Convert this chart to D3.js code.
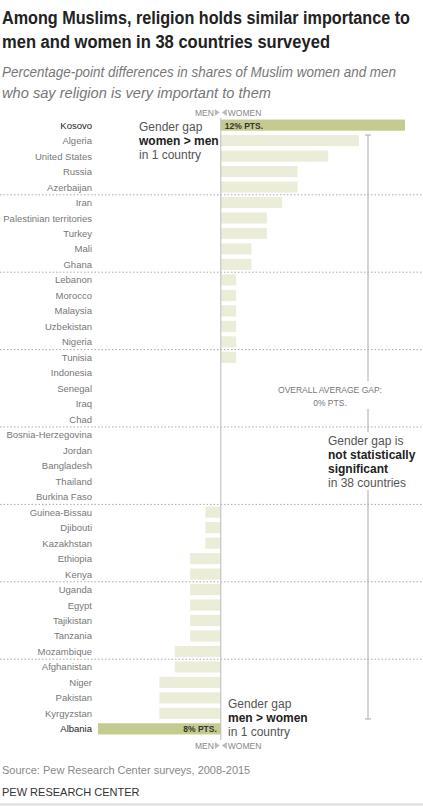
<!DOCTYPE html><html><head><meta charset="utf-8">
<script src="https://cdn.jsdelivr.net/npm/d3@7"></script>
<style>body{margin:0;background:#fff}text{font-family:"Liberation Sans",Arial,sans-serif}</style></head><body>
<svg id="chart" width="423" height="806"></svg>
<script>
const countries=["Kosovo","Algeria","United States","Russia","Azerbaijan","Iran","Palestinian territories","Turkey","Mali","Ghana","Lebanon","Morocco","Malaysia","Uzbekistan","Nigeria","Tunisia","Indonesia","Senegal","Iraq","Chad","Bosnia-Herzegovina","Jordan","Bangladesh","Thailand","Burkina Faso","Guinea-Bissau","Djibouti","Kazakhstan","Ethiopia","Kenya","Uganda","Egypt","Tajikistan","Tanzania","Mozambique","Afghanistan","Niger","Pakistan","Kyrgyzstan","Albania"];
const gaps=[12,9,7,5,5,4,3,3,2,2,1,1,1,1,1,1,0,0,0,0,0,0,0,0,0,-1,-1,-1,-2,-2,-2,-2,-2,-2,-3,-3,-4,-4,-4,-8];
const highlighted=["Kosovo","Albania"];
const svg=d3.select("#chart");
const x=d3.scaleLinear().domain([-8,12]).range([98,405]);
const y=d3.scaleBand().domain(countries).range([118,736]).paddingInner(0.28).paddingOuter(0.1);
svg.append("text").attr("x",2).attr("y",24).attr("font-size",18).attr("font-weight","bold").attr("fill","#222").attr("textLength",408).attr("lengthAdjust","spacingAndGlyphs").text("Among Muslims, religion holds similar importance to");
svg.append("text").attr("x",2).attr("y",48).attr("font-size",18).attr("font-weight","bold").attr("fill","#222").attr("textLength",328).attr("lengthAdjust","spacingAndGlyphs").text("men and women in 38 countries surveyed");
[["Percentage-point differences in shares of Muslim women and men",394],["who say religion is very important to them",269]].forEach((t,i)=>
 svg.append("text").attr("x",2).attr("y",77+i*21).attr("font-size",14.5).attr("font-style","italic").attr("font-family","Liberation Serif,serif").attr("fill","#777").attr("textLength",t[1]).attr("lengthAdjust","spacingAndGlyphs").text(t[0]));
countries.forEach((c,i)=>{ if(i%5===4 && i<38){ const yy=(y(countries[i])+y.bandwidth()+y(countries[i+1]))/2;
 svg.append("line").attr("x1",0).attr("x2",423).attr("y1",yy).attr("y2",yy).attr("stroke","#aaa").attr("stroke-dasharray","1.5,2");}});
svg.selectAll("rect.b").data(countries).enter().append("rect")
 .attr("x",(d,i)=>Math.min(x(0),x(gaps[i]))).attr("width",(d,i)=>Math.abs(x(gaps[i])-x(0)))
 .attr("y",d=>y(d)).attr("height",y.bandwidth())
 .attr("fill",d=>highlighted.includes(d)?"#c5cb8e":"#ebedd9");
svg.selectAll("text.l").data(countries).enter().append("text")
 .attr("x",92).attr("y",d=>y(d)+y.bandwidth()/2+3.5).attr("text-anchor","end").attr("font-size",9.5)
 .attr("fill",d=>highlighted.includes(d)?"#222":"#777").text(d=>d);
svg.append("line").attr("x1",x(0)).attr("x2",x(0)).attr("y1",118).attr("y2",740).attr("stroke","#bbb");
svg.append("text").attr("x",x(0)+4).attr("y",y("Kosovo")+y.bandwidth()/2+3.5).attr("font-size",8.5).attr("font-weight","bold").attr("fill","#333").text("12% PTS.");
svg.append("text").attr("x",x(0)-4).attr("y",y("Albania")+y.bandwidth()/2+3.5).attr("text-anchor","end").attr("font-size",8.5).attr("font-weight","bold").attr("fill","#333").text("8% PTS.");
[116,749].forEach(yy=>{
 svg.append("text").attr("x",x(0)-7).attr("y",yy).attr("text-anchor","end").attr("font-size",8.5).attr("fill","#888").text("MEN");
 svg.append("text").attr("x",x(0)+7).attr("y",yy).attr("font-size",8.5).attr("fill","#888").text("WOMEN");
 svg.append("path").attr("d",`M${x(0)-1},${yy-3.5}l-5,-3.5v7z`).attr("fill","#bbb");
 svg.append("path").attr("d",`M${x(0)+1},${yy-3.5}l5,-3.5v7z`).attr("fill","#bbb");
});
const lx=368;
svg.append("line").attr("x1",lx).attr("x2",lx).attr("y1",y("Algeria")).attr("y2",y("Kyrgyzstan")+y.bandwidth()).attr("stroke","#aaa");
[y("Algeria"),y("Kyrgyzstan")+y.bandwidth()].forEach(v=>svg.append("line").attr("x1",lx-3).attr("x2",lx+3).attr("y1",v).attr("y2",v).attr("stroke","#aaa"));
svg.append("rect").attr("x",290).attr("y",381).attr("width",130).attr("height",28).attr("fill","#fff");
svg.append("text").attr("x",330).attr("y",393).attr("text-anchor","middle").attr("font-size",8.5).attr("fill","#777").text("OVERALL AVERAGE GAP:");
svg.append("text").attr("x",330).attr("y",406).attr("text-anchor","middle").attr("font-size",8.5).attr("fill","#777").text("0% PTS.");
svg.append("rect").attr("x",322).attr("y",432).attr("width",101).attr("height",58).attr("fill","#fff");
const ann=(xx,yy,lines)=>lines.forEach((l,i)=>svg.append("text").attr("x",xx).attr("y",yy+i*14).attr("font-size",12).attr("font-weight",l[1]?"bold":"normal").attr("fill",l[1]?"#222":"#555").text(l[0]));
ann(328,445,[["Gender gap is"],["not statistically",1],["significant",1],["in 38 countries"]]);
ann(139,131,[["Gender gap"],["women > men",1],["in 1 country"]]);
ann(228,708,[["Gender gap"],["men > women",1],["in 1 country"]]);
svg.append("text").attr("x",2).attr("y",774).attr("font-size",11).attr("fill","#888").text("Source: Pew Research Center surveys, 2008-2015");
svg.append("text").attr("x",2).attr("y",796).attr("font-size",11).attr("fill","#333").text("PEW RESEARCH CENTER");
svg.append("rect").attr("x",0).attr("y",803).attr("width",423).attr("height",3).attr("fill","#e5e5e5");
</script></body></html>
